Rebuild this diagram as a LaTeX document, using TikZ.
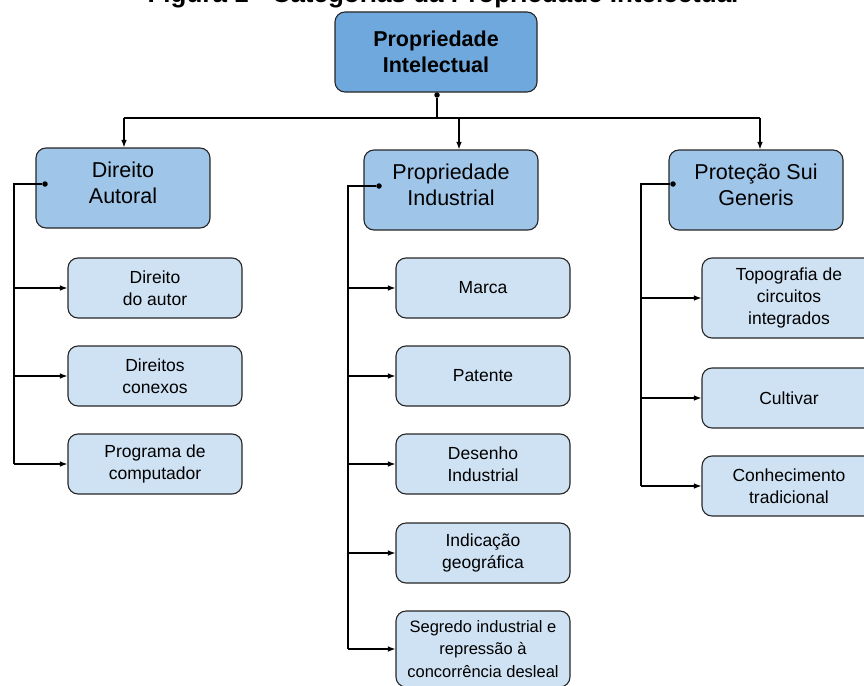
\documentclass[tikz,border=0pt]{standalone}
\usepackage{fontspec}
\setmainfont{Liberation Sans}
\usetikzlibrary{arrows.meta}
\definecolor{cTop}{HTML}{6FA8DC}
\definecolor{cMid}{HTML}{9FC5E8}
\definecolor{cLow}{HTML}{CFE2F3}
\begin{document}
\begin{tikzpicture}[x=1pt,y=-1pt,
  box/.style={draw=black!85,line width=1.1pt,rounded corners=10pt,align=center,inner sep=0pt,
    minimum width=174pt},
  topbox/.style={box,fill=cTop,minimum width=202pt,minimum height=80pt,
    font=\fontsize{21.5}{26}\selectfont\bfseries},
  midbox/.style={box,fill=cMid,minimum height=80pt,text depth=10pt,font=\fontsize{21.5}{26}\selectfont},
  lowbox/.style={box,fill=cLow,minimum height=60pt,font=\fontsize{17.5}{22}\selectfont},
  conn/.style={line width=1.1pt,black},
  arr/.style={conn,-{Latex[length=7.5pt,width=5.5pt]}},
  dot/.style={circle,fill=black,inner sep=0pt,minimum size=5.5pt}]
\useasboundingbox (0,0) rectangle (864,685);
\begin{scope}
\clip (0,0) rectangle (864,685);
\node[font=\fontsize{26}{30}\selectfont\bfseries,anchor=base] (title) at (443,3) {Figura 1 - Categorias da Propriedade Intelectual};
\node[topbox] (top) at (436,52) {Propriedade\\Intelectual};
\node[midbox] (DA) at (123,188) {Direito\\Autoral};
\node[midbox] (PI) at (451,190) {Propriedade\\Industrial};
\node[midbox] (PS) at (756,190) {Proteção Sui\\Generis};
% left column
\node[lowbox] (A1) at (155,288) {Direito\\do autor};
\node[lowbox] (A2) at (155,376) {Direitos\\conexos};
\node[lowbox] (A3) at (155,464) {Programa de\\computador};
% middle column
\node[lowbox] (B1) at (483,288) {Marca};
\node[lowbox] (B2) at (483,376) {Patente};
\node[lowbox] (B3) at (483,464) {Desenho\\Industrial};
\node[lowbox] (B4) at (483,553) {Indicação\\geográfica};
\node[lowbox,minimum height=76pt,font=\fontsize{16.5}{22.5}\selectfont] (B5) at (483,649) {Segredo industrial e\\repressão à\\concorrência desleal};
% right column
\node[lowbox,minimum height=80pt] (C1) at (789,298) {Topografia de\\circuitos\\integrados};
\node[lowbox] (C2) at (789,398) {Cultivar};
\node[lowbox] (C3) at (789,486) {Conhecimento\\tradicional};
% dots
\node[dot] (d0) at (437,95) {};
\node[dot] (d1) at (45,184) {};
\node[dot] (d2) at (379,186) {};
\node[dot] (d3) at (673,184) {};
% top bus
\coordinate (j0) at (437,118);
\draw[conn] (d0) -- (j0);
\draw[conn] (j0) -- (124,118) coordinate (jl);
\draw[conn] (j0) -- (760,118) coordinate (jr);
\draw[arr] (jl) -- (jl |- DA.north);
\draw[arr] (j0 -| 459,0) -- (459,0 |- PI.north);
\draw[arr] (jr) -- (jr |- PS.north);
% left bus
\coordinate (l0) at (14,184);
\draw[conn] (d1) -- (l0) -- (l0 |- A3.west);
\draw[arr] (l0 |- A1.west) -- (A1.west);
\draw[arr] (l0 |- A2.west) -- (A2.west);
\draw[arr] (l0 |- A3.west) -- (A3.west);
% middle bus
\coordinate (m0) at (348,186);
\draw[conn] (d2) -- (m0) -- (m0 |- B5.west);
\draw[arr] (m0 |- B1.west) -- (B1.west);
\draw[arr] (m0 |- B2.west) -- (B2.west);
\draw[arr] (m0 |- B3.west) -- (B3.west);
\draw[arr] (m0 |- B4.west) -- (B4.west);
\draw[arr] (m0 |- B5.west) -- (B5.west);
% right bus
\coordinate (r0) at (641,184);
\draw[conn] (d3) -- (r0) -- (r0 |- C3.west);
\draw[arr] (r0 |- C1.west) -- (C1.west);
\draw[arr] (r0 |- C2.west) -- (C2.west);
\draw[arr] (r0 |- C3.west) -- (C3.west);
\end{scope}
\end{tikzpicture}
\end{document}
